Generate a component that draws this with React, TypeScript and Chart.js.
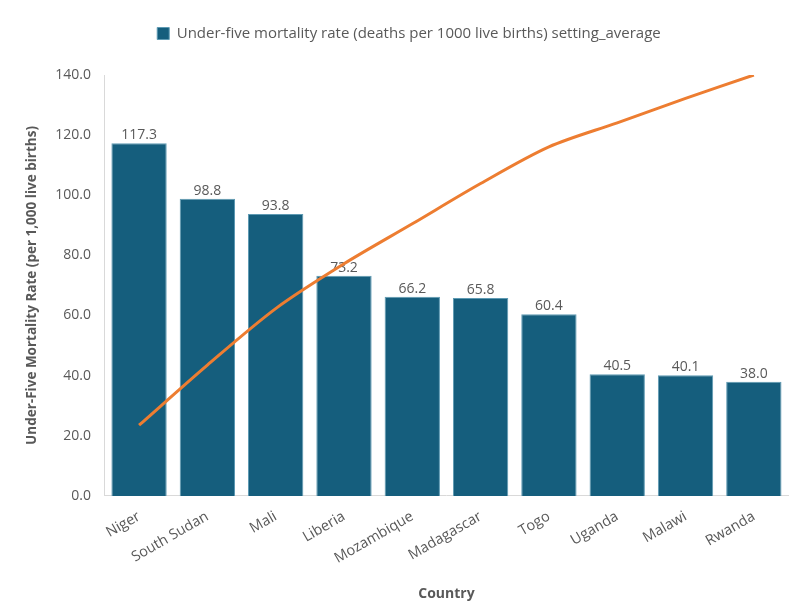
import React, { useEffect, useRef } from "react";
import { Chart, registerables } from "chart.js";

Chart.register(...registerables);

const countries = ["Niger", "South Sudan", "Mali", "Liberia", "Mozambique", "Madagascar", "Togo", "Uganda", "Malawi", "Rwanda"];
const mortality = [117.3, 98.8, 93.8, 73.2, 66.2, 65.8, 60.4, 40.5, 40.1, 38.0];
const lineValues = [23.5, 43.5, 62.3, 77.2, 90.5, 103.9, 116.1, 124.1, 132.2, 140.0];
const yTicks = [0, 20, 40, 60, 80, 100, 120, 140];

const FONT = "'Open Sans', 'Noto Sans', sans-serif";
const GRAY = "#595959";

const labelPlugin = {
  id: "barLabels",
  afterDatasetDraw(chart: any, args: any) {
    if (args.index !== 1) return;
    const ctx = chart.ctx;
    const meta = chart.getDatasetMeta(1);
    ctx.save();
    ctx.font = `14px ${FONT}`;
    ctx.fillStyle = GRAY;
    ctx.textAlign = "center";
    ctx.textBaseline = "bottom";
    meta.data.forEach((el: any, i: number) => {
      ctx.fillText(mortality[i].toFixed(1), el.x, el.y - 1);
    });
    ctx.restore();
  },
};

const legendTweak = {
  id: "legendTweak",
  beforeInit(chart: any) {
    const lg = chart.legend;
    const origFit = lg.fit;
    lg.fit = function () {
      origFit.bind(lg)();
      this.height += 24;
    };
    const origDraw = lg.draw;
    lg.draw = function () {
      const ctx = chart.ctx;
      ctx.save();
      ctx.translate(8, 0);
      origDraw.bind(lg)();
      ctx.restore();
    };
  },
};

export default function App() {
  const ref = useRef<HTMLCanvasElement>(null);
  useEffect(() => {
    if (!ref.current) return;
    const chart = new Chart(ref.current, {
      type: "bar",
      data: {
        labels: countries,
        datasets: [
          {
            type: "line",
            label: "Cumulative",
            data: lineValues,
            borderColor: "#ED7D31",
            backgroundColor: "#ED7D31",
            borderWidth: 3,
            pointRadius: 0,
            tension: 0.3,
            order: 0,
          } as any,
          {
            type: "bar",
            label: "Under-five mortality rate (deaths per 1000 live births) setting_average",
            data: mortality,
            backgroundColor: "#155E7D",
            borderColor: "#5E9AB3",
            borderWidth: 1,
            categoryPercentage: 1,
            barPercentage: 0.81,
            order: 1,
          },
        ],
      },
      options: {
        animation: false,
        responsive: false,
        maintainAspectRatio: false,
        layout: { padding: { left: 14, right: 6, top: 4, bottom: 6 } },
        plugins: {
          tooltip: { enabled: false },
          legend: {
            position: "top",
            labels: {
              filter: (item: any) => item.datasetIndex === 1,
              boxWidth: 12,
              boxHeight: 12,
              color: GRAY,
              font: { family: FONT, size: 15 },
              padding: 22,
            },
          },
        },
        scales: {
          x: {
            grid: { display: false },
            border: { color: "#d9d9d9" },
            ticks: {
              color: GRAY,
              font: { family: FONT, size: 14.5 },
              minRotation: 30,
              maxRotation: 30,
              padding: 4,
            },
            title: {
              display: true,
              text: "Country",
              color: GRAY,
              font: { family: FONT, size: 14, weight: "bold" },
              padding: { top: 14 },
            },
          },
          y: {
            min: 0,
            max: 140,
            afterBuildTicks: (axis: any) => {
              axis.ticks = yTicks.map((v) => ({ value: v }));
            },
            grid: { display: false, drawTicks: false },
            border: { color: "#d9d9d9" },
            ticks: {
              color: GRAY,
              font: { family: FONT, size: 14 },
              callback: (v: any) => Number(v).toFixed(1),
              padding: 14,
            },
            title: {
              display: true,
              text: "Under-Five Mortality Rate (per 1,000 live births)",
              color: GRAY,
              font: { family: FONT, size: 13.5, weight: "bold" },
              padding: { top: 10, bottom: 1 },
            },
          },
        },
      },
      plugins: [labelPlugin, legendTweak],
    });
    return () => chart.destroy();
  }, []);
  return (
    <div style={{ position: "fixed", left: 0, top: 0, width: 794, height: 612, background: "#fff" }}>
      <canvas ref={ref} width={794} height={612} />
    </div>
  );
}
